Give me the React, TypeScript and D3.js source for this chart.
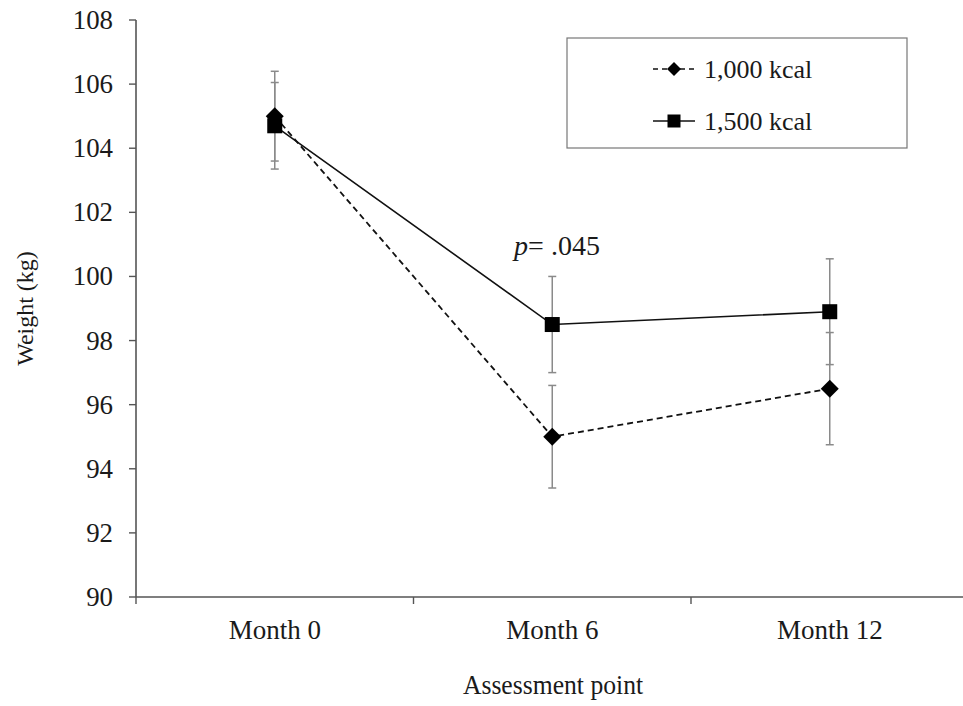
import React, { useEffect, useRef } from "react";
import * as d3 from "d3";

const categories = ["Month 0", "Month 6", "Month 12"];
const kcal1000 = [105.0, 95.0, 96.5];
const kcal1000Err = [1.4, 1.6, 1.75];
const kcal1500 = [104.7, 98.5, 98.9];
const kcal1500Err = [1.35, 1.5, 1.65];
const yTicks = [90, 92, 94, 96, 98, 100, 102, 104, 106, 108];
const seriesNames = ["1,000 kcal", "1,500 kcal"];

const FONT = "'Liberation Serif', 'Times New Roman', serif";

const App = () => {
    const svgRef = useRef<SVGSVGElement>(null);

    useEffect(() => {
        const width = 963, height = 706;
        const margin = { top: 20, left: 136, bottom: 109 };
        const svg = d3.select(svgRef.current);
        svg.selectAll("*").remove();

        const x = d3.scaleBand()
            .domain(categories)
            .range([margin.left, margin.left + 3 * 277.5]);
        const y = d3.scaleLinear()
            .domain([90, 108])
            .range([height - margin.bottom, margin.top]);

        const cx = (i: number) => (x(categories[i]) as number) + x.bandwidth() / 2;

        const label = (g, tx, ty, text, anchor = "middle", size = 27, sx = 1) =>
            g.append("text")
                .attr("transform", `translate(${tx},${ty}) scale(${sx},1)`)
                .attr("text-anchor", anchor)
                .attr("font-family", FONT)
                .attr("font-size", size)
                .attr("fill", "#1a1a1a")
                .text(text);

        // axes
        const axisColor = "#555";
        svg.append("line")
            .attr("x1", margin.left).attr("x2", margin.left)
            .attr("y1", y(108)).attr("y2", y(90))
            .attr("stroke", axisColor).attr("stroke-width", 1.6);
        svg.append("line")
            .attr("x1", margin.left).attr("x2", width + 10)
            .attr("y1", y(90)).attr("y2", y(90))
            .attr("stroke", axisColor).attr("stroke-width", 1.6);

        yTicks.forEach(t => {
            svg.append("line")
                .attr("x1", margin.left - 7).attr("x2", margin.left)
                .attr("y1", y(t)).attr("y2", y(t))
                .attr("stroke", axisColor).attr("stroke-width", 1.4);
            label(svg, 113, y(t) + 9, String(t), "end", 28, 0.96);
        });

        const bandEdges = categories.map(c => x(c) as number).concat([x.range()[1]]);
        bandEdges.forEach(bx => {
            svg.append("line")
                .attr("x1", bx).attr("x2", bx)
                .attr("y1", y(90)).attr("y2", y(90) + 7)
                .attr("stroke", axisColor).attr("stroke-width", 1.4);
        });
        categories.forEach((c, i) => label(svg, cx(i), 639, c));

        label(svg, 553, 694, "Assessment point", "middle", 27, 0.95);
        svg.append("text")
            .attr("transform", `translate(33,${(y(90) + y(108)) / 2}) rotate(-90)`)
            .attr("text-anchor", "middle")
            .attr("font-family", FONT)
            .attr("font-size", 24)
            .attr("fill", "#1a1a1a")
            .text("Weight (kg)");

        // error bars
        const drawErr = (vals, errs) => {
            vals.forEach((v, i) => {
                const g = svg.append("g").attr("stroke", "#8a8a8a").attr("stroke-width", 1.5);
                g.append("line").attr("x1", cx(i)).attr("x2", cx(i))
                    .attr("y1", y(v + errs[i])).attr("y2", y(v - errs[i]));
                [v + errs[i], v - errs[i]].forEach(e => {
                    g.append("line").attr("x1", cx(i) - 4).attr("x2", cx(i) + 4)
                        .attr("y1", y(e)).attr("y2", y(e));
                });
            });
        };
        drawErr(kcal1000, kcal1000Err);
        drawErr(kcal1500, kcal1500Err);

        const line = d3.line<number>()
            .x((d, i) => cx(i))
            .y(d => y(d));

        svg.append("path")
            .attr("d", line(kcal1000))
            .attr("fill", "none")
            .attr("stroke", "#111")
            .attr("stroke-width", 1.8)
            .attr("stroke-dasharray", "6,4");
        svg.append("path")
            .attr("d", line(kcal1500))
            .attr("fill", "none")
            .attr("stroke", "#111")
            .attr("stroke-width", 1.6);

        const diamond = (px, py, r = 9) =>
            `M${px},${py - r}L${px + r},${py}L${px},${py + r}L${px - r},${py}Z`;

        kcal1000.forEach((v, i) => {
            svg.append("path").attr("d", diamond(cx(i), y(v))).attr("fill", "#000");
        });
        kcal1500.forEach((v, i) => {
            svg.append("rect")
                .attr("x", cx(i) - 7.5).attr("y", y(v) - 7.5)
                .attr("width", 15).attr("height", 15)
                .attr("fill", "#000");
        });

        // p-value annotation
        const pText = svg.append("text")
            .attr("transform", "translate(557,255)")
            .attr("text-anchor", "middle")
            .attr("font-family", FONT)
            .attr("font-size", 28)
            .attr("fill", "#1a1a1a");
        pText.append("tspan").attr("font-style", "italic").text("p");
        pText.append("tspan").text("= .045");

        // legend
        const lg = svg.append("g");
        lg.append("rect")
            .attr("x", 567).attr("y", 38)
            .attr("width", 340).attr("height", 110)
            .attr("fill", "#fff")
            .attr("stroke", "#777").attr("stroke-width", 1.2);
        const legendRows = [
            { name: seriesNames[0], dash: "5,4", marker: "diamond", yy: 69 },
            { name: seriesNames[1], dash: null, marker: "square", yy: 121 },
        ];
        legendRows.forEach(r => {
            lg.append("line")
                .attr("x1", 653).attr("x2", 695)
                .attr("y1", r.yy).attr("y2", r.yy)
                .attr("stroke", "#111").attr("stroke-width", 1.6)
                .attr("stroke-dasharray", r.dash);
            if (r.marker === "diamond") {
                lg.append("path").attr("d", diamond(674, r.yy, 7)).attr("fill", "#000");
            } else {
                lg.append("rect")
                    .attr("x", 674 - 6.5).attr("y", r.yy - 6.5)
                    .attr("width", 13).attr("height", 13).attr("fill", "#000");
            }
            label(lg, 704, r.yy + 9, r.name, "start", 26);
        });
    }, []);

    return (
        <svg
            ref={svgRef}
            width={963}
            height={706}
            style={{ position: "absolute", left: 0, top: 0, background: "#fff" }}
        />
    );
};

export default App;
